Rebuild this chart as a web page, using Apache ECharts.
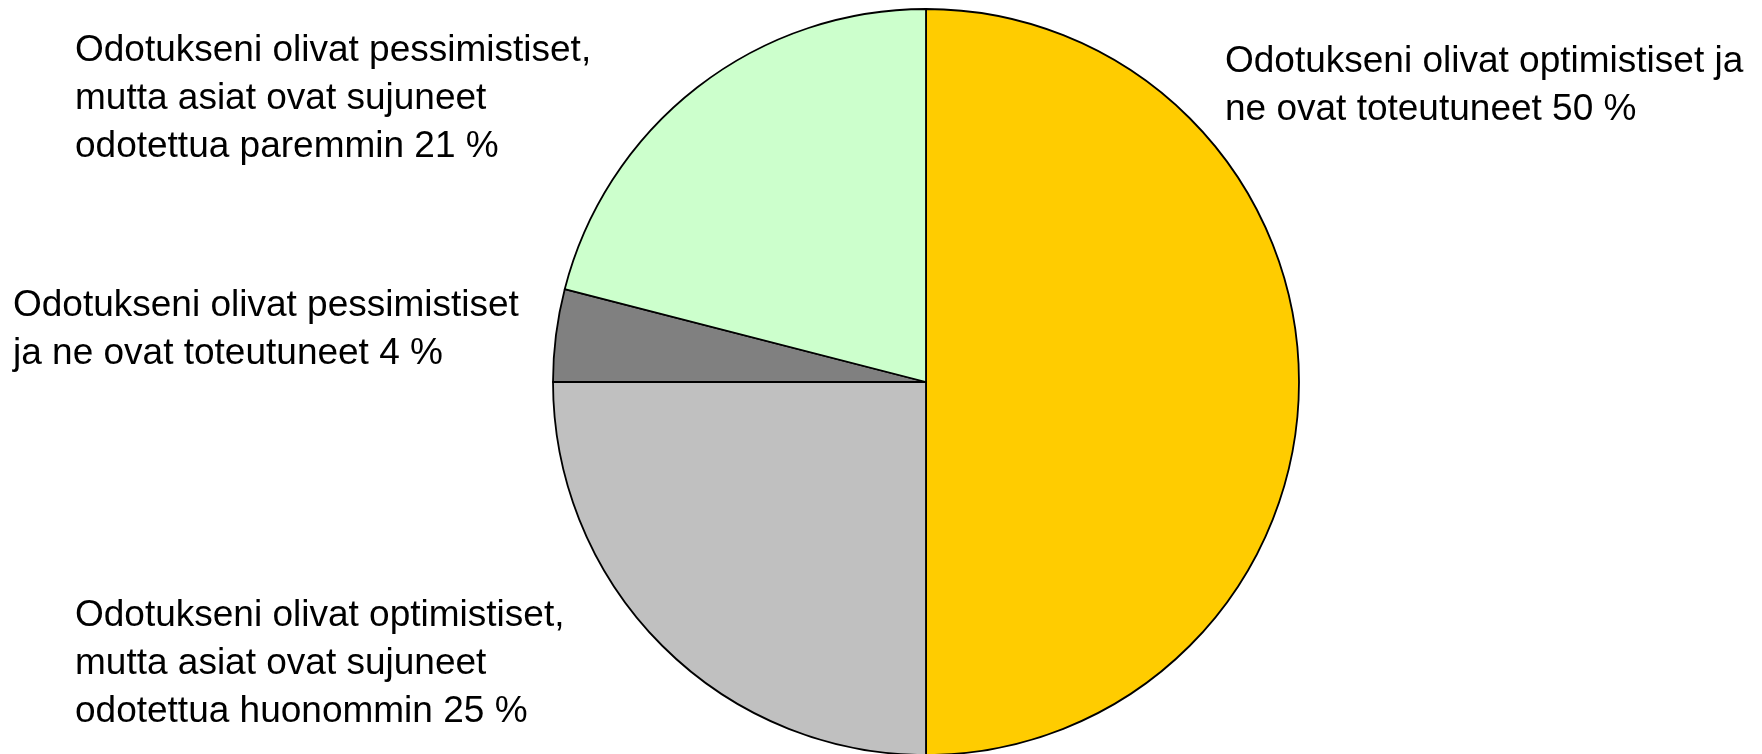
<!DOCTYPE html>
<html>
<head>
<meta charset="utf-8">
<script src="https://cdn.jsdelivr.net/npm/echarts@6/dist/echarts.min.js"></script>
<style>
html,body{margin:0;padding:0;background:#fff;}
#chart{width:1762px;height:754px;}
</style>
</head>
<body>
<div id="chart"></div>
<script>
const categories = [
  'Odotukseni olivat optimistiset ja\nne ovat toteutuneet',
  'Odotukseni olivat optimistiset,\nmutta asiat ovat sujuneet\nodotettua huonommin',
  'Odotukseni olivat pessimistiset\nja ne ovat toteutuneet',
  'Odotukseni olivat pessimistiset,\nmutta asiat ovat sujuneet\nodotettua paremmin'
];
const values = [50, 25, 4, 21];
const colors = ['#FFCC00', '#C0C0C0', '#808080', '#CCFFCC'];

const labelAnchors = [[1225, 86], [75, 664], [13, 330], [75, 99]];

const chart = echarts.init(document.getElementById('chart'));
chart.setOption({
  animation: false,
  backgroundColor: '#ffffff',
  series: [{
    type: 'pie',
    center: [926, 382],
    radius: 373,
    startAngle: 90,
    clockwise: true,
    avoidLabelOverlap: false,
    data: categories.map((n, i) => ({
      name: n,
      value: values[i],
      itemStyle: { color: colors[i] }
    })),
    itemStyle: { borderColor: '#000000', borderWidth: 1.8 },
    emphasis: { disabled: true },
    label: {
      show: true,
      position: 'outside',
      formatter: '{b} {c} %',
      color: '#000000',
      fontFamily: 'Liberation Sans, Arial, sans-serif',
      fontSize: 37,
      lineHeight: 48
    },
    labelLine: { show: false },
    labelLayout: function (params) {
      const p = labelAnchors[params.dataIndex];
      return { x: p[0], y: p[1], align: 'left', verticalAlign: 'middle' };
    }
  }]
});
</script>
</body>
</html>
